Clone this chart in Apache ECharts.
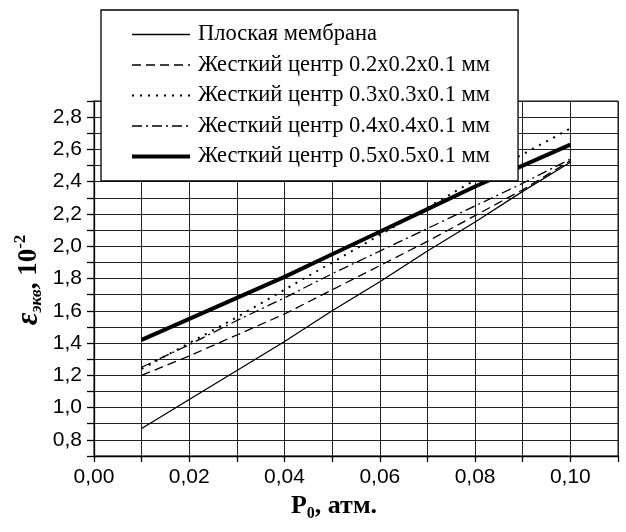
<!DOCTYPE html>
<html>
<head>
<meta charset="utf-8">
<script src="https://cdn.jsdelivr.net/npm/echarts@6/dist/echarts.min.js"></script>
<style>
html,body{margin:0;padding:0;background:#fff;}
#c{width:626px;height:532px;}
</style>
</head>
<body>
<div id="c"></div>
<script>
// ---- data ----
const pressure = [0.01, 0.02, 0.03, 0.04, 0.05, 0.06, 0.07, 0.08, 0.09, 0.10];
const flatMembrane = [0.87, 1.05, 1.23, 1.41, 1.60, 1.78, 1.97, 2.15, 2.34, 2.52];
const center02 = [1.20, 1.32, 1.45, 1.58, 1.73, 1.88, 2.03, 2.19, 2.35, 2.53];
const center03 = [1.24, 1.40, 1.56, 1.73, 1.90, 2.07, 2.24, 2.41, 2.57, 2.73];
const center04 = [1.25, 1.39, 1.54, 1.68, 1.83, 1.97, 2.11, 2.25, 2.39, 2.54];
const center05 = [1.42, 1.55, 1.68, 1.81, 1.95, 2.09, 2.23, 2.37, 2.50, 2.63];
const seriesNames = [
  'Плоская мембрана',
  'Жесткий центр 0.2x0.2x0.1 мм',
  'Жесткий центр 0.3x0.3x0.1 мм',
  'Жесткий центр 0.4x0.4x0.1 мм',
  'Жесткий центр 0.5x0.5x0.1 мм'
];
const xTickLabels = ['0,00', '0,02', '0,04', '0,06', '0,08', '0,10'];
const yTickLabels = ['0,8', '1,0', '1,2', '1,4', '1,6', '1,8', '2,0', '2,2', '2,4', '2,6', '2,8'];

// ---- styles ----
const lineStyles = [
  {width: 1.3, type: 'solid'},
  {width: 1.3, type: [9, 5]},
  {width: 2, type: [2, 6]},
  {width: 1.3, type: [10, 4, 2, 4]},
  {width: 4, type: 'solid'}
];
const allValues = [flatMembrane, center02, center03, center04, center05];

const chart = echarts.init(document.getElementById('c'), null, {renderer: 'canvas'});

const series = allValues.map((vals, i) => ({
  name: seriesNames[i],
  type: 'line',
  symbol: 'none',
  showSymbol: false,
  animation: false,
  z: 3,
  color: '#000',
  itemStyle: {color: '#000'},
  lineStyle: Object.assign({color: '#000', cap: 'butt'}, lineStyles[i]),
  data: pressure.map((p, j) => [p, vals[j]])
}));

const legendData = seriesNames.map((n, i) => ({
  name: n,
  lineStyle: Object.assign({color: '#000', cap: 'butt'}, lineStyles[i])
}));

const xFmt = v => {
  const h = Math.round(v * 100);
  if (h % 2 !== 0) return '';
  return xTickLabels[h / 2] || '';
};
const yFmt = v => {
  const t = Math.round(v * 10);
  if (t % 2 !== 0) return '';
  return yTickLabels[(t - 8) / 2] || '';
};

const option = {
  animation: false,
  backgroundColor: '#fff',
  grid: {
    left: 94, top: 101, width: 524, height: 355,
    show: true, borderColor: '#111', borderWidth: 1, backgroundColor: 'transparent'
  },
  xAxis: {
    type: 'value', min: 0, max: 0.11, interval: 0.01,
    axisLine: {show: true, lineStyle: {color: '#000', width: 1.3}},
    axisTick: {show: true, inside: false, length: 6, lineStyle: {color: '#000', width: 1.3}},
    axisLabel: {formatter: xFmt, fontFamily: 'Liberation Sans', fontSize: 21, color: '#000', margin: 11},
    splitLine: {show: true, lineStyle: {color: '#222', width: 1}}
  },
  yAxis: {
    type: 'value', min: 0.7, max: 2.9, interval: 0.1,
    axisLine: {show: true, lineStyle: {color: '#000', width: 1.3}},
    axisTick: {show: true, inside: false, length: 7, lineStyle: {color: '#000', width: 1.3}},
    axisLabel: {formatter: yFmt, fontFamily: 'Liberation Sans', fontSize: 21, color: '#000', margin: 12},
    splitLine: {show: true, lineStyle: {color: '#222', width: 1}}
  },
  legend: {
    orient: 'vertical',
    left: 101, top: 10,
    padding: [13, 28, 13, 29],
    itemWidth: 58, itemHeight: 14, itemGap: 7.5,
    backgroundColor: '#fff', borderColor: '#000', borderWidth: 1.3,
    itemStyle: {color: 'rgba(0,0,0,0)', borderWidth: 0, opacity: 0},
    textStyle: {fontFamily: 'Liberation Serif', fontSize: 22.5, color: '#000', lineHeight: 23, padding: [0, 0, 0, 3]},
    data: legendData,
    z: 10
  },
  graphic: [
    {
      type: 'text',
      x: 334, y: 506,
      style: {
        text: '{m|P}{s|0}{m|, атм.}',
        align: 'center', verticalAlign: 'middle',
        fill: '#000',
        rich: {
          m: {fontFamily: 'Liberation Serif', fontWeight: 'bold', fontSize: 26, fill: '#000'},
          s: {fontFamily: 'Liberation Serif', fontWeight: 'bold', fontSize: 16, fill: '#000', padding: [15, 0, 0, 0]}
        }
      }
    },
    {
      type: 'text',
      x: 29, y: 280,
      rotation: Math.PI / 2,
      style: {
        text: '{e|ε}{s|экв}{m|, 10}{p|-2}',
        align: 'center', verticalAlign: 'middle',
        fill: '#000',
        rich: {
          e: {fontFamily: 'Liberation Serif', fontWeight: 'bold', fontStyle: 'italic', fontSize: 31, fill: '#000'},
          s: {fontFamily: 'Liberation Serif', fontWeight: 'bold', fontStyle: 'italic', fontSize: 17, fill: '#000', padding: [15, 0, 0, 0]},
          m: {fontFamily: 'Liberation Serif', fontWeight: 'bold', fontSize: 27, fill: '#000'},
          p: {fontFamily: 'Liberation Serif', fontWeight: 'bold', fontSize: 17, fill: '#000', padding: [0, 0, 16, 0]}
        }
      }
    }
  ],
  series: series
};
chart.setOption(option);
</script>
</body>
</html>
